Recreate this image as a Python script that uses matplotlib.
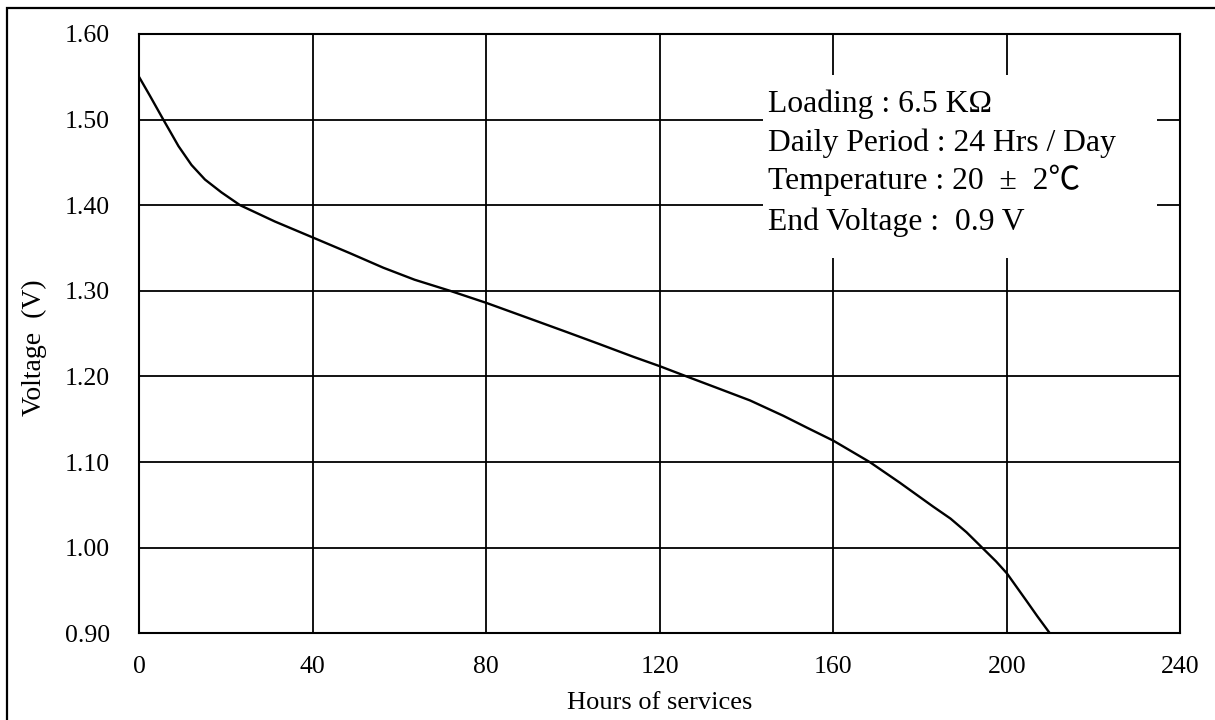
import matplotlib
matplotlib.use("Agg")
import matplotlib.pyplot as plt
from matplotlib.patches import Rectangle

# discharge curve
hours = [0, 2.5, 5.6, 7.3, 9.1, 12.1, 15.2, 19.0, 23.3, 31.3, 40.2, 48.6, 56.3, 63.5,
         71.7, 80, 90.9, 98.5, 106, 113.9, 120, 126.2, 133, 140.8, 148.5, 154, 160,
         168.4, 175.3, 183, 187, 190.7, 194.5, 197.5, 200, 204.5, 207, 209.9]
volts = [1.55, 1.528, 1.50, 1.485, 1.469, 1.447, 1.430, 1.415, 1.40, 1.381, 1.362, 1.344, 1.327, 1.313,
         1.30, 1.286, 1.266, 1.252, 1.238, 1.223, 1.212, 1.20, 1.187, 1.172, 1.154, 1.140, 1.125,
         1.10, 1.076, 1.048, 1.034, 1.018, 0.999, 0.984, 0.970, 0.938, 0.920, 0.90]

xticks = [0, 40, 80, 120, 160, 200, 240]
yticks = [0.90, 1.00, 1.10, 1.20, 1.30, 1.40, 1.50, 1.60]

notes = ["Loading : 6.5 K\u03a9",
         "Daily Period : 24 Hrs / Day",
         "Temperature : 20  \u00b1  2\u2103",
         "End Voltage :  0.9 V"]

plt.rcParams['font.family'] = ['Liberation Serif', 'Noto Sans CJK SC', 'DejaVu Sans']

fig = plt.figure(figsize=(12.15, 7.2), dpi=100)
ax = fig.add_axes([0.1144, 0.1204, 0.8572, 0.8324])

# outer frame of the picture
fig.patches.append(Rectangle((7 / 1215, -0.05), 1.1, 1 - 8 / 720 + 0.05,
                             transform=fig.transFigure, fill=False,
                             edgecolor='black', linewidth=1.6))

ax.plot(hours, volts, color='black', linewidth=1.7, zorder=3)

ax.set_xlim(0, 240)
ax.set_ylim(0.90, 1.60)
ax.set_xticks(xticks)
ax.set_yticks(yticks)
ax.set_yticklabels(["%.2f" % v for v in yticks])
ax.grid(True, color='black', linewidth=1.3)
ax.set_axisbelow(True)
ax.tick_params(length=0, labelsize=18.5)
ax.tick_params(axis='x', pad=16)
ax.tick_params(axis='y', pad=21)
for s in ax.spines.values():
    s.set_linewidth(1.5)

ax.set_xlabel("Hours of services", fontsize=19)
ax.xaxis.set_label_coords(0.5, -0.098)
ax.set_ylabel("Voltage  (V)", fontsize=20)
ax.yaxis.set_label_coords(-0.088, 0.476)

# white box behind the test conditions
ax.add_patch(Rectangle((0.599, 0.626), 0.378, 0.306, transform=ax.transAxes,
                       facecolor='white', edgecolor='none', zorder=2))
baselines = [0.870, 0.805, 0.741, 0.673]
for txt, yb in zip(notes, baselines):
    ax.text(0.604, yb, txt, transform=ax.transAxes, fontsize=22.8,
            va='baseline', ha='left', zorder=4)

fig.savefig("out.png", dpi=100)
